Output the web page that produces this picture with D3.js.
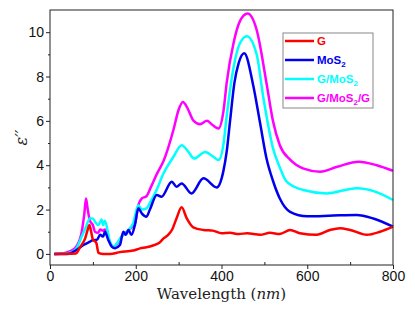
<!DOCTYPE html>
<html>
<head>
<meta charset="utf-8">
<script src="https://cdn.jsdelivr.net/npm/d3@7"></script>
<style>
  body { margin: 0; background: #fff; }
  svg { display: block; }
</style>
</head>
<body>
<svg id="chart"></svg>
<script>
// wavelength (nm) and eps'', one pair of arrays per curve
const wlG  = [10, 60, 70, 82, 88, 92, 96, 100, 108, 113, 125, 140, 163, 194, 210, 225, 240, 255, 265, 275, 285, 295, 307, 319, 334, 358, 380, 400, 420, 440, 460, 490, 513, 536, 560, 583, 622, 653, 676, 700, 739, 770, 800]
const epsG = [0, 0.02, 0.3, 0.7, 1.1, 1.3, 1.0, 0.65, 0.5, 0.05, 0, 0, 0.08, 0.15, 0.25, 0.3, 0.38, 0.5, 0.7, 0.85, 1.1, 1.6, 2.1, 1.6, 1.2, 1.08, 1.05, 0.93, 0.95, 0.9, 0.93, 0.86, 0.95, 0.9, 1.08, 0.93, 0.86, 1.08, 1.16, 1.08, 0.86, 1.0, 1.23]

const wlMoS2  = [10, 40, 50, 62, 78, 93, 101, 109, 117, 124, 128, 136, 144, 152, 163, 171, 177, 183, 190, 198, 206, 214, 225, 233, 249, 260, 284, 295, 307, 330, 358, 389, 404, 412, 420, 430, 440, 453, 474, 490, 505, 520, 536, 560, 600, 650, 715, 754, 800]
const epsMoS2 = [0, 0, 0.05, 0.18, 0.4, 0.55, 0.63, 0.63, 0.86, 0.78, 1.0, 0.63, 0.33, 0.26, 0.4, 1.0, 0.86, 1.08, 0.86, 1.3, 2.06, 1.83, 1.68, 2.0, 2.66, 2.58, 3.26, 3.03, 3.18, 2.73, 3.41, 3.0, 3.7, 4.6, 6.0, 7.7, 8.6, 9.05, 7.6, 5.9, 4.3, 3.3, 2.5, 1.9, 1.7, 1.72, 1.76, 1.6, 1.23]

const wlGMoS2  = [10, 35, 50, 62, 74, 84, 93, 100, 105, 113, 120, 124, 128, 140, 148, 167, 183, 194, 206, 214, 225, 233, 249, 264, 288, 307, 323, 336, 362, 381, 393, 405, 412, 428, 443, 459, 482, 498, 521, 536, 552, 591, 645, 715, 760, 800]
const epsGMoS2 = [0, 0.02, 0.08, 0.26, 0.78, 1.23, 1.6, 1.6, 1.45, 1.3, 1.55, 1.3, 1.5, 0.55, 0.33, 0.78, 1.08, 1.38, 2.2, 2.0, 2.05, 2.3, 2.9, 3.6, 4.38, 4.9, 4.6, 4.3, 4.6, 4.38, 4.23, 5.0, 6.2, 8.4, 9.5, 9.82, 9.0, 7.0, 4.7, 3.9, 3.26, 2.88, 2.73, 2.96, 2.8, 2.43]

const wlGMoS2G  = [10, 30, 40, 50, 62, 74, 80, 84, 88, 93, 100, 105, 112, 117, 124, 128, 136, 148, 158, 167, 183, 198, 206, 214, 225, 235, 249, 265, 288, 300, 310, 320, 335, 350, 366, 380, 393, 405, 412, 428, 443, 461, 482, 505, 520, 536, 560, 590, 630, 670, 720, 762, 800]
const epsGMoS2G = [0, 0.02, 0.08, 0.15, 0.35, 1.0, 1.8, 2.5, 2.0, 1.5, 1.3, 1.0, 0.95, 1.1, 1.05, 1.1, 0.7, 0.3, 0.5, 0.78, 1.08, 1.35, 2.2, 2.5, 2.6, 3.0, 3.6, 4.2, 5.6, 6.5, 6.85, 6.6, 6.0, 5.85, 6.0, 5.8, 5.66, 6.5, 7.7, 9.5, 10.5, 10.84, 10.1, 7.7, 6.0, 4.9, 4.25, 3.86, 3.71, 3.93, 4.16, 4.0, 3.75]

const seriesNames  = ["G", "MoS2", "G/MoS2", "G/MoS2/G"]
const seriesColors = ["#ff0000", "#0000ee", "#00ffff", "#ff00ff"]

const xTicks = [0, 200, 400, 600, 800]
const yTicks = [0, 2, 4, 6, 8, 10]

const W = 415, H = 313
const margin = {left: 50, top: 10, right: 22, bottom: 48}

const svg = d3.select("#chart").attr("width", W).attr("height", H)

const x = d3.scaleLinear().domain([0, 800]).range([margin.left, W - margin.right])
const y = d3.scaleLinear().domain([-0.5, 11]).range([H - margin.bottom, margin.top])

const curves = [
    {name: seriesNames[0], wl: wlG, eps: epsG},
    {name: seriesNames[1], wl: wlMoS2, eps: epsMoS2},
    {name: seriesNames[2], wl: wlGMoS2, eps: epsGMoS2},
    {name: seriesNames[3], wl: wlGMoS2G, eps: epsGMoS2G}
]
curves.forEach((c, i) => {
    c.color = seriesColors[i]
    c.points = c.wl.map((w, j) => [w, c.eps[j]])
})

const line = d3.line()
    .x(d => x(d[0]))
    .y(d => y(d[1]))
    .curve(d3.curveMonotoneX)

// curves, G on top so draw it last
const drawOrder = [3, 2, 1, 0]
svg.append("g")
    .selectAll("path")
    .data(drawOrder.map(i => curves[i]))
    .join("path")
    .attr("d", d => line(d.points))
    .attr("fill", "none")
    .attr("stroke", d => d.color)
    .attr("stroke-width", 2.5)
    .attr("stroke-linejoin", "round")

// frame
svg.append("rect")
    .attr("x", x(0)).attr("y", y(11))
    .attr("width", x(800) - x(0)).attr("height", y(-0.5) - y(11))
    .attr("fill", "none").attr("stroke", "#222").attr("stroke-width", 1)

// axes
const xAxis = svg.append("g")
    .attr("transform", `translate(0,${y(-0.5)})`)
    .call(d3.axisBottom(x).tickValues(xTicks).tickSize(4).tickPadding(2))
const xMinor = svg.append("g")
    .attr("transform", `translate(0,${y(-0.5)})`)
    .call(d3.axisTop(x).tickValues([100, 300, 500, 700]).tickSize(3).tickFormat(""))

const yAxis = svg.append("g")
    .attr("transform", `translate(${x(0)},0)`)
    .call(d3.axisLeft(y).tickValues(yTicks).tickSize(4).tickPadding(2))
const yMinor = svg.append("g")
    .attr("transform", `translate(${x(0)},0)`)
    .call(d3.axisLeft(y).tickValues([1, 3, 5, 7, 9]).tickSize(2).tickFormat(""))

;[xAxis, xMinor, yAxis, yMinor].forEach(g => {
    g.select(".domain").remove()
    g.selectAll("line").attr("stroke", "#222")
    g.selectAll("text")
        .style("font-family", "'Liberation Sans', Arial, sans-serif")
        .style("font-size", "14px")
        .attr("fill", "#111")
})

// axis titles
const xTitle = svg.append("text")
    .attr("x", (x(0) + x(800)) / 2)
    .attr("y", 299)
    .attr("text-anchor", "middle")
    .style("font-family", "'DejaVu Serif', 'Liberation Serif', serif")
    .style("font-size", "15px")
    .attr("fill", "#222")
xTitle.append("tspan").text("Wavelength (")
xTitle.append("tspan").style("font-style", "italic").text("nm")
xTitle.append("tspan").text(")")

svg.append("text")
    .attr("transform", `translate(27,${(y(11) + y(-0.5)) / 2}) rotate(-90)`)
    .attr("text-anchor", "middle")
    .style("font-family", "'DejaVu Serif', 'Liberation Serif', serif")
    .style("font-style", "italic")
    .style("font-size", "16px")
    .attr("fill", "#222")
    .text("ε′′")

// legend
const legend = svg.append("g").attr("transform", "translate(283,33)")
legend.append("rect")
    .attr("width", 90).attr("height", 75)
    .attr("fill", "#fff").attr("stroke", "#888").attr("stroke-width", 1)

const rows = legend.selectAll("g.row")
    .data(curves)
    .join("g")
    .attr("class", "row")
    .attr("transform", (d, i) => `translate(0,${8 + i * 19})`)

rows.append("line")
    .attr("x1", 2).attr("x2", 31)
    .attr("stroke", d => d.color).attr("stroke-width", 2.5)

rows.append("text")
    .attr("x", 34).attr("y", 4)
    .style("font-family", "'Liberation Sans', Arial, sans-serif")
    .style("font-weight", "bold")
    .style("font-size", "11.5px")
    .attr("fill", d => d.color)
    .each(function(d) {
        const t = d3.select(this)
        const parts = d.name.split("2")
        parts.forEach((p, k) => {
            if (p) t.append("tspan").attr("dy", k > 0 ? -3 : 0).text(p)
            if (k < parts.length - 1) {
                t.append("tspan")
                    .attr("dy", 3 + (k > 0 && !p ? 0 : 0))
                    .style("font-size", "8px")
                    .text("2")
            }
        })
    })
</script>
</body>
</html>
